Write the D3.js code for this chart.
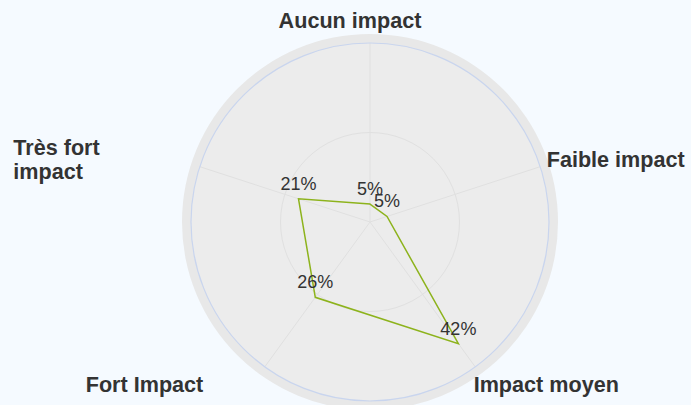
<!DOCTYPE html>
<html>
<head>
<meta charset="utf-8">
<script src="https://cdn.jsdelivr.net/npm/d3@7"></script>
<style>
  html, body { margin: 0; padding: 0; background: #f5faff; }
  svg { display: block; font-family: "Liberation Sans", Arial, sans-serif; }
</style>
</head>
<body>
<div id="radar"></div>
<script>
var categories = ["Aucun impact", "Faible impact", "Impact moyen", "Fort Impact", "Très fort impact"];
var values = [5, 5, 42, 26, 21];
var gridValues = [25, 50];

var width = 691, height = 405,
    cx = 370, cy = 222,
    R = 179, paneR = 188;

var svg = d3.select("#radar").append("svg")
    .attr("width", width)
    .attr("height", height);

var angle = d3.scaleLinear().domain([0, categories.length]).range([0, 2 * Math.PI]);
var radius = d3.scaleLinear().domain([0, 50]).range([0, R]);

function px(i, r) { return cx + r * Math.sin(angle(i)); }
function py(i, r) { return cy - r * Math.cos(angle(i)); }

var g = svg.append("g");

// pane background
g.append("circle")
    .attr("cx", cx).attr("cy", cy).attr("r", paneR)
    .attr("fill", "#e8e8e8");
g.append("circle")
    .attr("cx", cx).attr("cy", cy).attr("r", R)
    .attr("fill", "#ececec");

// grid circles
g.selectAll(".grid")
    .data(gridValues.slice(0, -1))
    .enter().append("circle")
    .attr("class", "grid")
    .attr("cx", cx).attr("cy", cy)
    .attr("r", function(d) { return radius(d); })
    .attr("fill", "none")
    .attr("stroke", "#e0e0e0")
    .attr("stroke-width", 1);

// spokes
g.selectAll(".spoke")
    .data(categories)
    .enter().append("line")
    .attr("class", "spoke")
    .attr("x1", cx).attr("y1", cy)
    .attr("x2", function(d, i) { return px(i, R); })
    .attr("y2", function(d, i) { return py(i, R); })
    .attr("stroke", "#e0e0e0")
    .attr("stroke-width", 1);

// plot border
g.append("circle")
    .attr("cx", cx).attr("cy", cy).attr("r", R)
    .attr("fill", "none")
    .attr("stroke", "#c9d5ee")
    .attr("stroke-width", 1.2);

// series
var line = d3.lineRadial()
    .angle(function(d, i) { return angle(i); })
    .radius(function(d) { return radius(d); })
    .curve(d3.curveLinearClosed);

g.append("path")
    .datum(values)
    .attr("transform", "translate(" + cx + "," + cy + ")")
    .attr("d", line)
    .attr("fill", "none")
    .attr("stroke", "#8db31c")
    .attr("stroke-width", 1.5);

// data labels
g.selectAll(".dlabel")
    .data(values)
    .enter().append("text")
    .attr("class", "dlabel")
    .attr("x", function(d, i) { return px(i, radius(d)); })
    .attr("y", function(d, i) { return py(i, radius(d)) - 9; })
    .attr("text-anchor", "middle")
    .attr("font-size", 18)
    .attr("fill", "#333")
    .text(function(d) { return d + "%"; });

// axis labels: anchor and nudge per side
var labelLayout = [
  {anchor: "middle", dx: -20, dy: -4},
  {anchor: "start", dx: -4, dy: 4},
  {anchor: "start", dx: -8, dy: 16},
  {anchor: "end", dx: -55, dy: 16},
  {anchor: "end", dx: -89, dy: -8, lines: ["Très fort", "impact"]}
];

var labels = svg.selectAll(".xlabel")
    .data(categories)
    .enter().append("text")
    .attr("class", "xlabel")
    .attr("x", function(d, i) { return px(i, R + 11) + labelLayout[i].dx; })
    .attr("y", function(d, i) { return py(i, R + 11) + labelLayout[i].dy; })
    .attr("font-size", 21.6)
    .attr("font-weight", "bold")
    .attr("fill", "#333");

labels.each(function(d, i) {
  var t = d3.select(this), l = labelLayout[i];
  if (l.lines) {
    var x = +t.attr("x");
    t.attr("text-anchor", "start");
    l.lines.forEach(function(s, k) {
      t.append("tspan").attr("x", x - 87).attr("dy", k ? 24 : 0).text(s);
    });
  } else {
    t.attr("text-anchor", l.anchor).text(d);
  }
});
</script>
</body>
</html>
